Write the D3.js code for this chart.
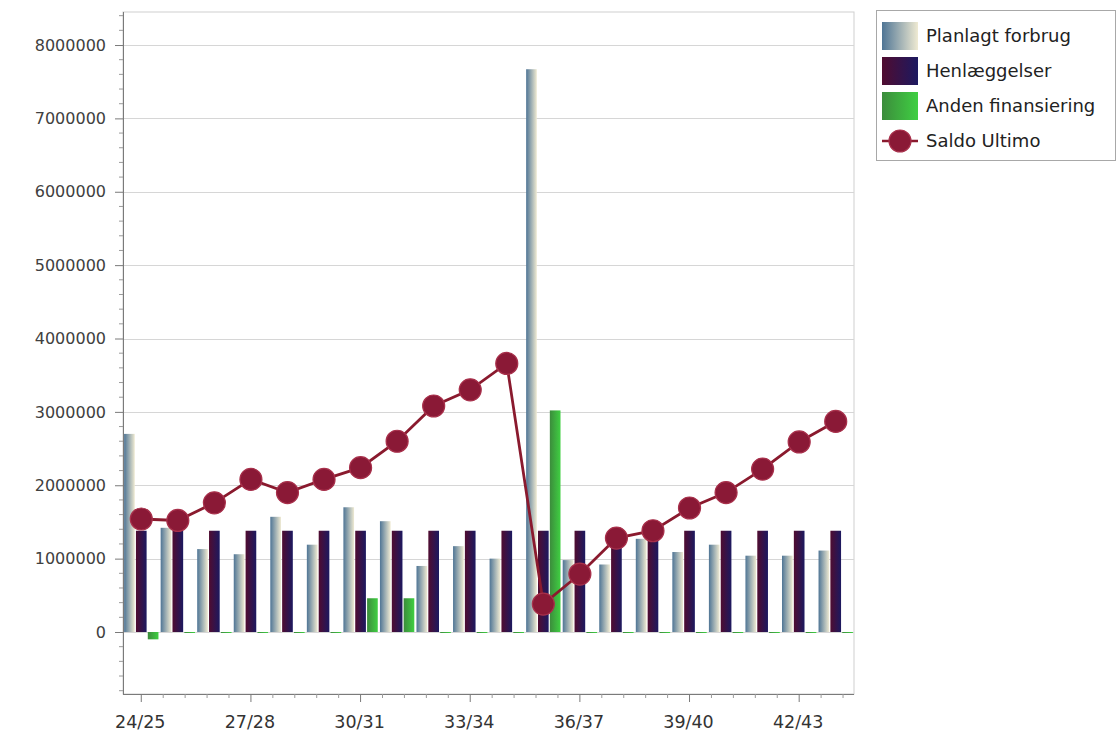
<!DOCTYPE html>
<html>
<head>
<meta charset="utf-8">
<script src="https://cdn.jsdelivr.net/npm/d3@7/dist/d3.min.js"></script>
<style>
  html, body { margin: 0; padding: 0; background: #fff; }
  svg { display: block; font-family: "DejaVu Sans", Verdana, sans-serif; }
</style>
</head>
<body>
<svg id="chart" width="1117" height="740"></svg>
<script>
const categories = ["24/25","25/26","26/27","27/28","28/29","29/30","30/31","31/32","32/33","33/34",
                    "34/35","35/36","36/37","37/38","38/39","39/40","40/41","41/42","42/43","43/44"];
const planlagtForbrug = [2700000,1420000,1130000,1060000,1570000,1190000,1700000,1510000,900000,1170000,
                         1000000,7670000,980000,920000,1270000,1090000,1190000,1040000,1040000,1110000];
const henlaeggelser = [1380000,1380000,1380000,1380000,1380000,1380000,1380000,1380000,1380000,1380000,
                       1380000,1380000,1380000,1380000,1380000,1380000,1380000,1380000,1380000,1380000];
const andenFinansiering = [-100000,0,0,0,0,0,460000,460000,0,0,
                           0,3020000,0,0,0,0,0,0,0,0];
const saldoUltimo = [1540000,1520000,1760000,2080000,1900000,2080000,2240000,2600000,3080000,3300000,
                     3660000,380000,790000,1280000,1380000,1690000,1900000,2220000,2590000,2870000];
const yTicks = [0,1000000,2000000,3000000,4000000,5000000,6000000,7000000,8000000];
const xTickLabels = ["24/25","27/28","30/31","33/34","36/37","39/40","42/43"];
const seriesNames = ["Planlagt forbrug","Henlæggelser","Anden finansiering","Saldo Ultimo"];

const svg = d3.select("#chart");
const L = 123, R = 854, T = 12, B = 694;

const defs = svg.append("defs");
function grad(id, c1, c2) {
  const g = defs.append("linearGradient").attr("id", id)
    .attr("x1","0%").attr("x2","100%").attr("y1","0%").attr("y2","0%");
  g.append("stop").attr("offset","0%").attr("stop-color", c1);
  g.append("stop").attr("offset","100%").attr("stop-color", c2);
}
grad("gPlan", "#4f7595", "#efead2");
grad("gHen", "#500c30", "#1c1960");
grad("gAnd", "#3c8c3c", "#3fcf42");
const fills = ["url(#gPlan)", "url(#gHen)", "url(#gAnd)"];

const y = d3.scaleLinear().domain([-845000, 8450000]).range([B, T]);
const x = d3.scaleBand().domain(categories).range([L, R]).paddingInner(0.06).paddingOuter(0.03);
const x1 = d3.scaleBand().domain([0,1,2]).range([0, x.bandwidth()]).paddingInner(0.1);

// plot frame
svg.append("rect").attr("x", L).attr("y", T).attr("width", R - L).attr("height", B - T)
  .attr("fill", "#fff").attr("stroke", "#cfcfcf").attr("stroke-width", 1);

// gridlines
svg.append("g").selectAll("line").data(yTicks).join("line")
  .attr("x1", L).attr("x2", R)
  .attr("y1", d => Math.round(y(d)) + 0.5).attr("y2", d => Math.round(y(d)) + 0.5)
  .attr("stroke", "#d6d6d6").attr("stroke-width", 1);

// bars
const data = categories.map((c, i) => ({ c, v: [planlagtForbrug[i], henlaeggelser[i], andenFinansiering[i]] }));
const groups = svg.append("g").selectAll("g").data(data).join("g")
  .attr("transform", d => `translate(${x(d.c)},0)`);
groups.selectAll("rect").data(d => d.v.map((v, k) => ({ v, k }))).join("rect")
  .attr("x", d => x1(d.k))
  .attr("width", x1.bandwidth())
  .attr("y", d => Math.min(y(d.v), y(0)))
  .attr("height", d => Math.max(1, Math.abs(y(d.v) - y(0))))
  .attr("fill", d => fills[d.k]);

// y axis
const yMinor = d3.range(-800000, 8450001, 200000).filter(v => v % 1000000 !== 0);
const yAxis = d3.axisLeft(y).tickValues(yTicks).tickSize(8).tickPadding(9).tickFormat(d3.format("d"));
const yg = svg.append("g").attr("transform", `translate(${L},0)`).call(yAxis);
yg.select(".domain").attr("stroke", "#7a7a7a").attr("d", `M0.5,${T}V${B}`);
yg.selectAll(".tick line").attr("stroke", "#7a7a7a");
yg.selectAll(".tick text").attr("font-size", 16).attr("fill", "#404040")
  .attr("font-family", "DejaVu Sans, sans-serif");
yg.append("g").selectAll("line").data(yMinor).join("line")
  .attr("x1", -4).attr("x2", 0)
  .attr("y1", d => y(d)).attr("y2", d => y(d))
  .attr("stroke", "#9a9a9a");

// x axis
const xg = svg.append("g").attr("transform", `translate(0,${B})`);
xg.append("line").attr("x1", L).attr("x2", R).attr("y1", 0.5).attr("y2", 0.5).attr("stroke", "#7a7a7a");
const xPos = c => x(c) + x.bandwidth() / 2;
xg.selectAll(".maj").data(xTickLabels).join("line").attr("class","maj")
  .attr("x1", d => xPos(d)).attr("x2", d => xPos(d)).attr("y1", 0).attr("y2", 8)
  .attr("stroke", "#7a7a7a");
const step = x.step();
const minorX = [];
for (let i = 0; i < categories.length; i += 3) {
  for (let k = 1; k < 5; k++) {
    const px = xPos(categories[i]) + k * step * 3 / 5;
    if (px < R) minorX.push(px);
  }
}
xg.selectAll(".min").data(minorX).join("line").attr("class","min")
  .attr("x1", d => d).attr("x2", d => d).attr("y1", 0).attr("y2", 4)
  .attr("stroke", "#9a9a9a");
xg.selectAll("text").data(xTickLabels).join("text")
  .attr("x", d => xPos(d) - 1).attr("y", 34)
  .attr("text-anchor", "middle").attr("font-size", 17.5).attr("fill", "#333")
  .text(d => d);

// line
const line = d3.line().x((d, i) => xPos(categories[i])).y(d => y(d));
svg.append("path").datum(saldoUltimo).attr("d", line)
  .attr("fill", "none").attr("stroke", "#8a1a2e").attr("stroke-width", 2.8);
svg.append("g").selectAll("circle").data(saldoUltimo).join("circle")
  .attr("cx", (d, i) => xPos(categories[i])).attr("cy", d => y(d)).attr("r", 11)
  .attr("fill", "#8a1936").attr("stroke", "#a8304b").attr("stroke-width", 1.2);

// legend
const lg = svg.append("g");
lg.append("rect").attr("x", 876.5).attr("y", 10.5).attr("width", 239).attr("height", 150)
  .attr("fill", "#fff").attr("stroke", "#a8a8a8");
const rowsY = [36, 71, 106, 141];
seriesNames.forEach((n, i) => {
  const cy = rowsY[i];
  if (i < 3) {
    lg.append("rect").attr("x", 882).attr("y", cy - 14).attr("width", 36).attr("height", 28)
      .attr("fill", fills[i]);
  } else {
    lg.append("line").attr("x1", 882).attr("x2", 918).attr("y1", cy).attr("y2", cy)
      .attr("stroke", "#8a1a2e").attr("stroke-width", 2.5);
    lg.append("circle").attr("cx", 900).attr("cy", cy).attr("r", 11)
      .attr("fill", "#8a1936").attr("stroke", "#a8304b").attr("stroke-width", 1.2);
  }
  lg.append("text").attr("x", 926).attr("y", cy + 6).attr("font-size", 18).attr("fill", "#222")
    .text(n);
});
</script>
</body>
</html>
